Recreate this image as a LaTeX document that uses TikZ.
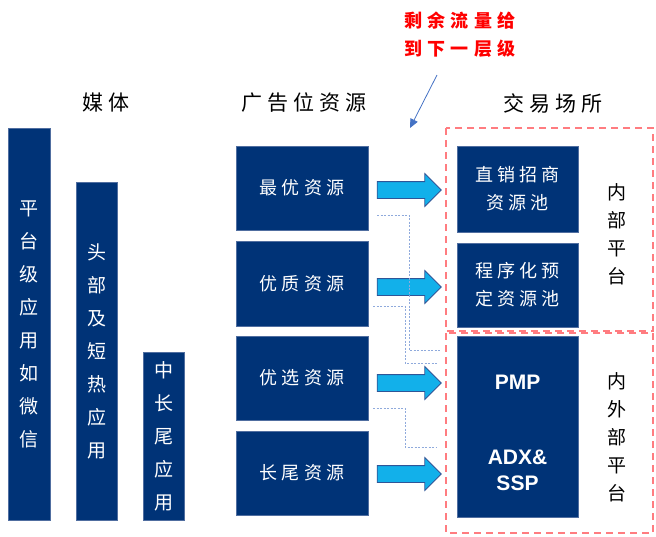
\documentclass[tikz,border=0pt]{standalone}
\usepackage{fontspec}
\setmainfont{Noto Sans CJK SC}
\newfontfamily\spaced[LetterSpace=24]{Noto Sans CJK SC}
\newfontfamily\redfont[LetterSpace=30]{Noto Sans CJK SC}
\newfontfamily\arialfont{Liberation Sans}
\usetikzlibrary{shapes.arrows,arrows.meta}
\definecolor{navy}{RGB}{0,51,119}
\definecolor{navyedge}{RGB}{80,110,160}
\definecolor{cyanfill}{RGB}{18,176,234}
\definecolor{arrowedge}{RGB}{47,85,151}
\definecolor{reddash}{RGB}{255,124,128}
\definecolor{conn}{RGB}{143,170,220}
\definecolor{pointer}{RGB}{68,114,196}
\tikzset{
  bar/.style={fill=navy, draw=navyedge, line width=0.6pt, text=white, align=center,
    inner sep=0pt, font=\fontsize{19}{33}\selectfont},
  resbox/.style={fill=navy, draw=navyedge, line width=0.6pt, text=white, align=center,
    inner sep=0pt, font=\spaced\fontsize{18}{28}\selectfont},
  header/.style={font=\spaced\fontsize{21}{24}\selectfont, text=black},
  bigarrow/.style={single arrow, fill=cyanfill, draw=arrowedge, line width=0.8pt,
    minimum height=64pt, inner sep=8pt, single arrow head extend=8pt},
  conline/.style={draw=conn, line width=0.8pt, dash pattern=on 2pt off 1.5pt},
  zone/.style={draw=reddash, line width=2pt, dash pattern=on 7pt off 5pt, inner sep=0pt},
  sidelabel/.style={align=center, font=\fontsize{19}{28}\selectfont, text=black}
}
\begin{document}
\begin{tikzpicture}[x=1pt,y=-1pt]
\useasboundingbox (0,0) rectangle (656,536);

% headers
\node[header] (hm) at (106,103) {媒体};
\node[header] (hr) at (304,103) {广告位资源};
\node[header] (hx) at (553,103) {交易场所};

% red note
\node[align=center, text=red, font=\redfont\bfseries\fontsize{18}{28}\selectfont] (note) at (460,35) {剩余流量给\\到下一层级};

% media bars
\node[bar, minimum width=42pt, minimum height=392pt] (m1) at (29,324) {平\\台\\级\\应\\用\\如\\微\\信};
\node[bar, minimum width=41pt, minimum height=338pt] (m2) at (96.5,351) {头\\部\\及\\短\\热\\应\\用};
\node[bar, minimum width=41pt, minimum height=168pt] (m3) at (163.5,436) {中\\长\\尾\\应\\用};

% resource boxes
\node[resbox, minimum width=132pt, minimum height=84pt] (r1) at (302,188) {最优资源};
\node[resbox, minimum width=132pt, minimum height=85pt] (r2) at (302,283.5) {优质资源};
\node[resbox, minimum width=132pt, minimum height=84pt] (r3) at (302,378) {优选资源};
\node[resbox, minimum width=132pt, minimum height=84pt] (r4) at (302,473) {长尾资源};

% exchange boxes
\node[resbox, minimum width=121pt, minimum height=86pt] (x1) at (517.5,189) {直销招商\\资源池};
\node[resbox, minimum width=121pt, minimum height=84pt] (x2) at (517.5,285) {程序化预\\定资源池};
\node[resbox, minimum width=121pt, minimum height=181pt] (x3) at (517.5,426.5) {};
\node[text=white, font=\arialfont\bfseries\fontsize{21}{26}\selectfont] (pmp) at (517.5,382) {PMP};
\node[text=white, align=center, font=\arialfont\bfseries\fontsize{21}{26}\selectfont] (adx) at (517.5,470) {ADX\&\\SSP};

% big arrows
\node[bigarrow] (a1) at (405,190) {};
\node[bigarrow] (a2) at (405,287) {};
\node[bigarrow] (a3) at (405,383) {};
\node[bigarrow] (a4) at (405,474) {};

% dashed connectors
\coordinate (c1s) at (377,215);
\coordinate (c1e) at (440,350);
\coordinate (c2s) at (373,306);
\coordinate (c2e) at (437,363);
\coordinate (c3s) at (373,408);
\coordinate (c3e) at (437,447);
\draw[conline] (c1s) -- (409,215) -- (409,350) -- (c1e);
\draw[conline] (c2s) -- (405,306) -- (405,363) -- (c2e);
\draw[conline] (c3s) -- (405,408) -- (405,447) -- (c3e);

% red dashed zones
\draw[zone] (446,128) rectangle (653,331);
\draw[zone] (446,333) rectangle (653,533);

% side labels
\node[sidelabel] (l1) at (617,234) {内\\部\\平\\台};
\node[sidelabel] (l2) at (617,437) {内\\外\\部\\平\\台};

% pointer arrow
\coordinate (ps) at (437,75);
\coordinate (pe) at (410,128);
\draw[pointer, line width=0.8pt, -{Triangle[length=9pt,width=8pt]}] (ps) -- (pe);
\end{tikzpicture}
\end{document}
